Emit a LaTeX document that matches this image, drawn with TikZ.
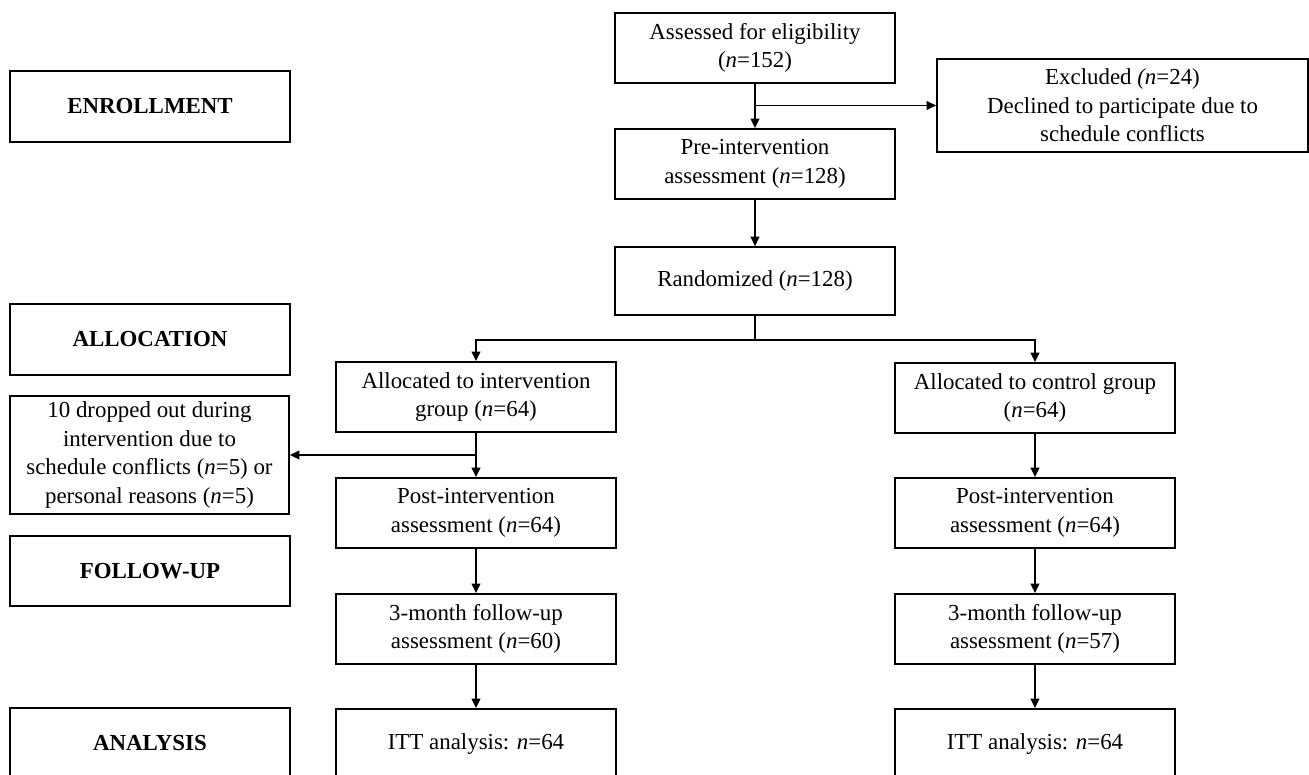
\documentclass[tikz,border=0pt]{standalone}
\usepackage{fontspec}
\setmainfont{Liberation Serif}
\usetikzlibrary{arrows.meta, positioning, calc}
\tikzstyle{box} = [rectangle, draw, line width=0.9pt, align=center, minimum width=146.7pt, minimum height=36.7pt, inner sep=2pt, font=\fontsize{12}{15}\selectfont]
\tikzstyle{stagebox} = [box, font=\fontsize{12}{15}\selectfont\bfseries]
\tikzstyle{arrow} = [-{Triangle[length=5pt, width=4.6pt]}, line width=0.9pt]
\tikzstyle{line} = [line width=0.9pt]

\begin{document}
\begin{tikzpicture}[x=0.524pt, y=-0.524pt]
    \useasboundingbox (0,0) rectangle (1309,775);

    % Stage labels
    \node[stagebox, minimum height=37.2pt] (enroll) at (150,106.5) {ENROLLMENT};
    \node[stagebox, minimum height=37.2pt] (alloclabel) at (150,339.5) {ALLOCATION};
    \node[stagebox] (followlabel) at (150,571) {FOLLOW-UP};
    \node[stagebox] (analysislabel) at (150,743) {ANALYSIS};

    % Enrollment
    \node[box] (assess) at (755,48) {Assessed for eligibility\\(\textit{n}=152)};
    \node[box, minimum width=194.4pt, minimum height=48.7pt] (excl) at (1122.5,105.5) {Excluded \textit{(n}=24)\\Declined to participate due to\\schedule conflicts};
    \node[box] (pre) at (755,164) {Pre-intervention\\assessment (\textit{n}=128)};
    \node[box, minimum height=35.6pt] (rand) at (755,281) {Randomized (\textit{n}=128)};

    % Allocation
    \node[box] (intv) at (476,397) {Allocated to intervention\\group (\textit{n}=64)};
    \node[box] (ctrl) at (1035,398) {Allocated to control group\\(\textit{n}=64)};
    \node[box, minimum width=146.2pt, minimum height=61.8pt] (drop) at (149.5,455) {10 dropped out during\\intervention due to\\schedule conflicts (\textit{n}=5) or\\personal reasons (\textit{n}=5)};

    % Follow-up
    \node[box] (postI) at (476,513) {Post-intervention\\assessment (\textit{n}=64)};
    \node[box] (postC) at (1035,513) {Post-intervention\\assessment (\textit{n}=64)};
    \node[box] (fuI) at (476,629) {3-month follow-up\\assessment (\textit{n}=60)};
    \node[box] (fuC) at (1035,629) {3-month follow-up\\assessment (\textit{n}=57)};

    % Analysis
    \node[box] (ittI) at (476,744) {ITT analysis: \textit{n}=64};
    \node[box] (ittC) at (1035,744) {ITT analysis: \textit{n}=64};

    % Connectors
    \coordinate (exsplit) at (assess.south |- excl.west);
    \draw[arrow] (assess) -- (pre);
    \draw[arrow] (exsplit) -- (excl.west);
    \draw[arrow] (pre) -- (rand);
    \draw[line] (rand.south) -- ++(0,24) coordinate (split);
    \draw[arrow] (split) -| (intv.north);
    \draw[arrow] (split) -| (ctrl.north);

    \coordinate (dropsplit) at (intv.south |- drop.east);
    \draw[arrow] (intv) -- (postI);
    \draw[arrow] (dropsplit) -- (drop.east);
    \draw[arrow] (postI) -- (fuI);
    \draw[arrow] (fuI) -- (ittI);

    \draw[arrow] (ctrl) -- (postC);
    \draw[arrow] (postC) -- (fuC);
    \draw[arrow] (fuC) -- (ittC);
\end{tikzpicture}
\end{document}
